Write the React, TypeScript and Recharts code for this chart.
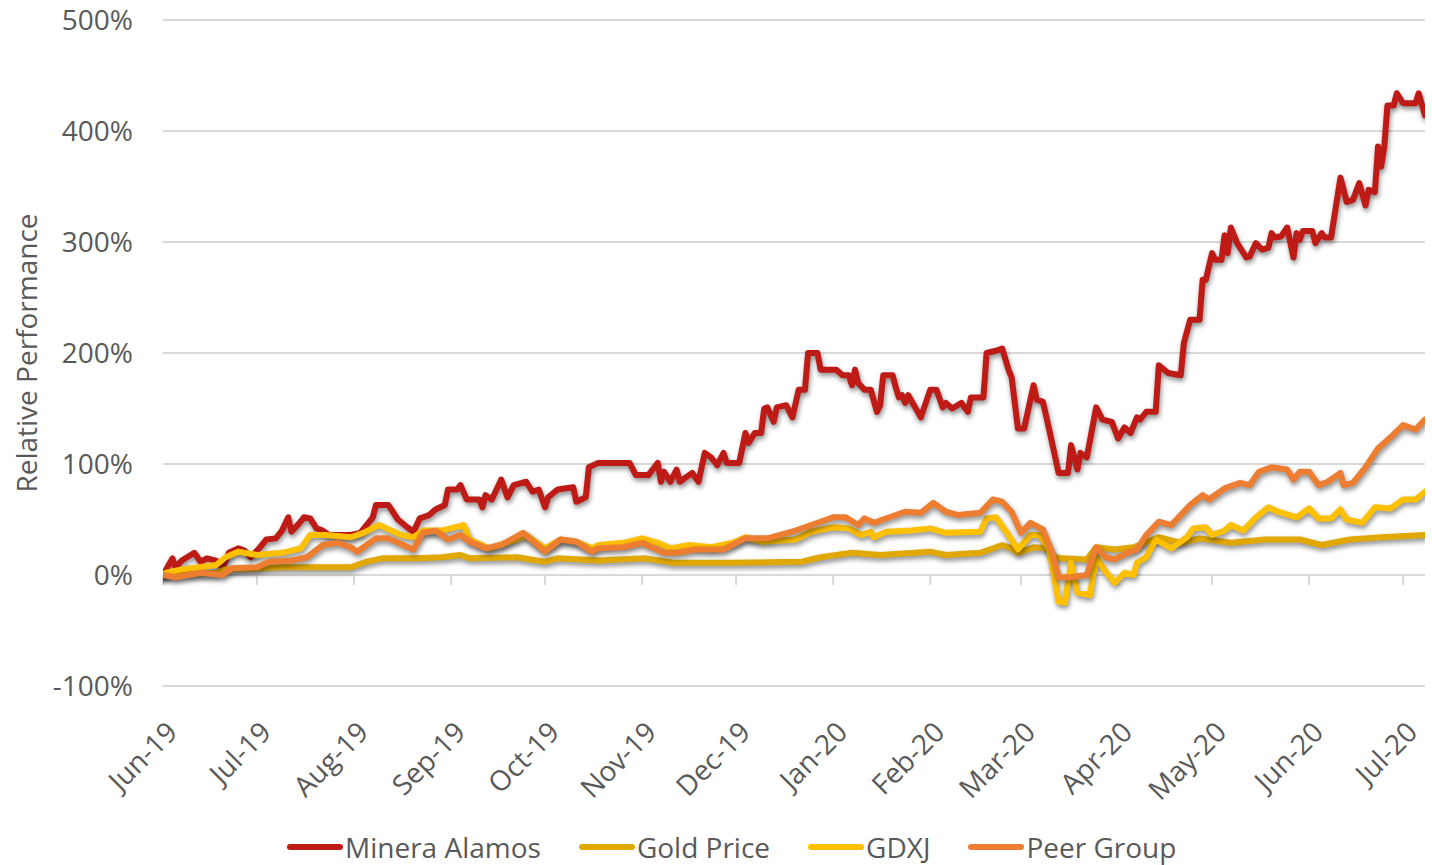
import React from "react";
import {
  LineChart,
  Line,
  XAxis,
  YAxis,
  CartesianGrid,
  ReferenceLine,
} from "recharts";

// x = days since 1 Jun 2019, y = relative performance in %
const MINERA_DAYS = [
  0, 3, 4, 6, 10, 12, 14, 17, 19, 21, 24, 26, 28, 31, 33, 36, 38, 40, 41, 43,
  45, 47, 49, 51, 53, 60, 63, 67, 68, 72, 75, 78, 80, 82, 85, 87, 90, 91, 94,
  95, 97, 101, 102, 103, 105, 108, 110, 112, 116, 118, 120, 122, 123, 126, 131,
  132, 135, 136, 139, 149, 151, 155, 158, 159, 160, 162, 164, 165, 169, 171,
  173, 175, 177, 179, 180, 184, 186, 187, 189, 191, 192, 193, 195, 196, 199,
  201, 203, 205, 206, 209, 210, 215, 217, 219, 220, 221, 222, 224, 226, 228,
  229, 230, 233, 234, 235, 236, 237, 238, 242, 245, 247, 249, 250, 252, 255,
  257, 258, 262, 263, 266, 268, 270, 271, 273, 275, 278, 279, 281, 283, 286,
  289, 290, 292, 293, 295, 298, 300, 303, 305, 307, 309, 311, 312, 314, 317,
  318, 321, 325, 326, 328, 331, 332, 333, 335, 336, 338, 339, 340, 341, 343,
  346, 347, 349, 351, 353, 354, 355, 357, 359, 361, 362, 363, 364, 367, 368,
  370, 371, 373, 376, 378, 380, 382, 384, 385, 387, 388, 389, 390, 391, 393,
  394, 396, 400, 401, 403,
];
const MINERA = [
  0, 15, 7, 13, 20, 12, 15, 13, 6, 20, 24, 22, 16, 25, 32, 33, 40, 52, 39, 45,
  52, 51, 42, 40, 36, 36, 38, 52, 63, 63, 50, 43, 39, 51, 54, 59, 63, 77, 77,
  81, 68, 68, 61, 72, 68, 86, 70, 81, 84, 75, 77, 61, 70, 77, 79,
  66, 70, 97, 101, 101, 90, 90, 101, 84, 93, 84, 95, 84, 92, 84,
  110, 106, 99, 110, 101, 101, 128, 119, 128, 128, 150, 151, 138, 151, 153,
  142, 167, 167, 200, 200, 185, 185, 180, 180, 171, 185, 173, 167, 167, 147,
  153, 180, 180, 169, 160, 162, 155, 162, 142, 167, 167, 151, 155, 150, 155,
  147, 160, 160, 200, 202, 204, 185, 178, 132, 132, 171, 158, 156, 131, 92,
  92, 117, 95, 110, 106, 151, 140, 138, 123, 133, 128, 142, 140, 147, 147,
  189, 182, 180, 209, 230, 230, 266, 266, 290, 284, 284, 306, 290, 313, 299,
  286, 287, 299, 293, 295, 308, 304, 305, 313, 286, 308, 302, 310, 310, 299,
  308, 304, 304, 358, 336, 338, 353, 333, 347, 345, 386, 368, 386, 423, 423,
  434, 425, 425, 434, 414,
];

const GOLD_DAYS = [
  0, 17, 20, 31, 38, 60, 65, 70, 81, 89, 95, 98, 113, 122, 126, 139, 154, 163,
  181, 204, 210, 220, 229, 245, 250, 261, 268, 271, 273, 278, 282, 285, 287,
  295, 298, 304, 310, 318, 325, 331, 341, 352, 363, 370, 379, 389, 403,
];
const GOLD = [
  0, 2, 5, 6, 7, 7, 12, 15, 15, 16, 18, 15, 16, 12, 15, 13, 15, 11,
  11, 12, 16, 20, 18, 21, 18, 20, 27, 24, 20, 25, 24, 16, 15,
  14, 25, 23, 25, 34, 29, 33, 29, 32, 32, 27, 32, 34, 36,
];

const GDXJ_DAYS = [
  0, 1, 6, 17, 20, 24, 30, 38, 44, 47, 52, 60, 64, 69, 76, 80, 83, 89, 96, 98,
  104, 113, 116, 122, 127, 132, 137, 139, 147, 153, 158, 162, 168, 175, 182,
  186, 191, 202, 207, 214, 219, 223, 226, 227, 231, 239, 245, 250, 261, 263,
  266, 270, 273, 277, 280, 283, 286, 288, 290, 292, 296, 298, 301, 304, 307,
  310, 311, 314, 317, 322, 327, 329, 333, 335, 339, 341, 345, 349, 353, 356,
  362, 366, 369, 373, 376, 378, 383, 387, 392, 396, 400, 403,
];
const GDXJ = [
  0, 2, 5, 9, 16, 21, 18, 20, 24, 36, 36, 34, 38, 45, 36, 34, 40, 40, 45, 32,
  24, 32, 36, 24, 32, 30, 24, 27, 29, 33, 29, 24, 27, 25, 29,
  34, 30, 32, 39, 43, 42, 36, 39, 34, 39, 40, 42, 38, 39, 51,
  52, 36, 23, 36, 36, 23, -24, -25, 11, -16, -18, 16, 3, -7, 2,
  0, 11, 16, 32, 24, 34, 42, 43, 36, 40, 45, 40, 52, 61, 57,
  52, 60, 51, 51, 59, 50, 47, 61, 60, 68, 68, 75,
];

const PEER_DAYS = [
  0, 4, 12, 19, 22, 30, 34, 41, 46, 51, 56, 60, 62, 68, 72, 80, 83, 87, 91, 95,
  98, 103, 108, 115, 122, 127, 132, 137, 139, 147, 153, 160, 164, 170, 179,
  186, 193, 202, 210, 214, 218, 222, 224, 227, 232, 237, 242, 246, 250, 254,
  261, 265, 268, 271, 274, 277, 281, 284, 286, 290, 295, 298, 301, 304, 308,
  311, 314, 318, 322, 328, 332, 334, 339, 344, 347, 350, 354, 359, 361, 363,
  366, 369, 372, 376, 377, 380, 384, 388, 392, 396, 400, 403,
];
const PEER = [
  0, -2, 2, 0, 6, 7, 12, 13, 16, 27, 29, 25, 21, 33, 33, 23, 38, 40, 32, 36,
  30, 24, 27, 38, 21, 32, 30, 21, 24, 25, 29, 20, 20, 23, 23,
  33, 33, 40, 48, 52, 52, 45, 51, 47, 52, 57, 56, 65, 57, 54,
  56, 68, 66, 57, 38, 47, 41, 20, -2, -2, 0, 25, 16, 14, 20,
  23, 36, 48, 45, 63, 72, 68, 78, 83, 81, 93, 97, 95, 86, 93,
  93, 81, 84, 92, 81, 83, 97, 114, 124, 135, 131, 140,
];

const MONTH_DAYS = [0, 30, 61, 92, 122, 153, 183, 214, 245, 274, 305, 335, 366, 396];
const MONTH_LABELS = [
  "Jun-19", "Jul-19", "Aug-19", "Sep-19", "Oct-19", "Nov-19", "Dec-19",
  "Jan-20", "Feb-20", "Mar-20", "Apr-20", "May-20", "Jun-20", "Jul-20",
];
const Y_TICKS = [-100, 0, 100, 200, 300, 400, 500];

const SERIES = [
  { name: "Minera Alamos", color: "#BF1B16", days: MINERA_DAYS, values: MINERA },
  { name: "Gold Price", color: "#E0A800", days: GOLD_DAYS, values: GOLD },
  { name: "GDXJ", color: "#FFC000", days: GDXJ_DAYS, values: GDXJ },
  { name: "Peer Group", color: "#ED7D31", days: PEER_DAYS, values: PEER },
];

const FONT = "'Open Sans', sans-serif";
const FONT_SIZE = 28;
const TEXT = "#595959";
const GRID = "#d9d9d9";

function toPoints(days: number[], values: number[]) {
  return days.map((d, i) => ({ d, v: values[i] }));
}

function MonthTick(props: any) {
  const { x, y, payload } = props;
  const label = MONTH_LABELS[MONTH_DAYS.indexOf(payload.value)];
  const tx = x + 16;
  const ty = y + 48;
  return (
    <text
      x={tx}
      y={ty}
      transform={`rotate(-45 ${tx} ${ty})`}
      textAnchor="end"
      fill={TEXT}
      fontSize={FONT_SIZE}
      fontFamily={FONT}
    >
      {label}
    </text>
  );
}

export default function App() {
  return (
    <div
      style={{
        position: "absolute",
        left: 0,
        top: 0,
        width: 1432,
        height: 865,
        background: "#fff",
        fontFamily: FONT,
      }}
    >
      <style>{`
        .recharts-line path, .recharts-line-curve {
          filter: drop-shadow(1.5px 3px 2.5px rgba(0, 0, 0, 0.45));
        }
      `}</style>
      <LineChart
        width={1432}
        height={865}
        margin={{ top: 20, right: 7, left: 0, bottom: 0 }}
      >
        <CartesianGrid vertical={false} stroke={GRID} strokeWidth={2} />
        <XAxis
          dataKey="d"
          type="number"
          domain={[0, 403]}
          ticks={MONTH_DAYS}
          interval={0}
          height={179}
          axisLine={false}
          tickLine={false}
          tickSize={0}
          tickMargin={0}
          tick={<MonthTick />}
          allowDataOverflow
        />
        <YAxis
          type="number"
          domain={[-100, 500]}
          ticks={Y_TICKS}
          width={163}
          axisLine={false}
          tickLine={false}
          tickSize={6}
          tickMargin={24}
          tickFormatter={(v: number) => `${v}%`}
          tick={{ fill: TEXT, fontSize: FONT_SIZE, fontFamily: FONT }}
          label={{
            value: "Relative Performance",
            angle: -90,
            position: "insideLeft",
            dx: 22,
            style: { textAnchor: "middle", fill: TEXT, fontSize: FONT_SIZE, fontFamily: FONT },
          }}
        />
        {MONTH_DAYS.map((d) => (
          <ReferenceLine
            key={d}
            segment={[
              { x: d, y: 0 },
              { x: d, y: -9 },
            ]}
            stroke={GRID}
            strokeWidth={2}
            ifOverflow="visible"
          />
        ))}
        {SERIES.map((s) => (
          <Line
            key={s.name}
            data={toPoints(s.days, s.values)}
            dataKey="v"
            name={s.name}
            type="linear"
            stroke={s.color}
            strokeWidth={6}
            strokeLinejoin="round"
            strokeLinecap="round"
            dot={false}
            activeDot={false}
            isAnimationActive={false}
          />
        ))}
      </LineChart>
      <div
        style={{
          position: "absolute",
          left: 287,
          top: 828,
          display: "flex",
          alignItems: "center",
          gap: 38,
          fontSize: FONT_SIZE,
          color: TEXT,
          whiteSpace: "nowrap",
        }}
      >
        {SERIES.map((s) => (
          <div key={s.name} style={{ display: "flex", alignItems: "center", gap: 2 }}>
            <span
              style={{
                display: "inline-block",
                width: 56,
                height: 6,
                borderRadius: 3,
                background: s.color,
              }}
            />
            <span>{s.name}</span>
          </div>
        ))}
      </div>
    </div>
  );
}
